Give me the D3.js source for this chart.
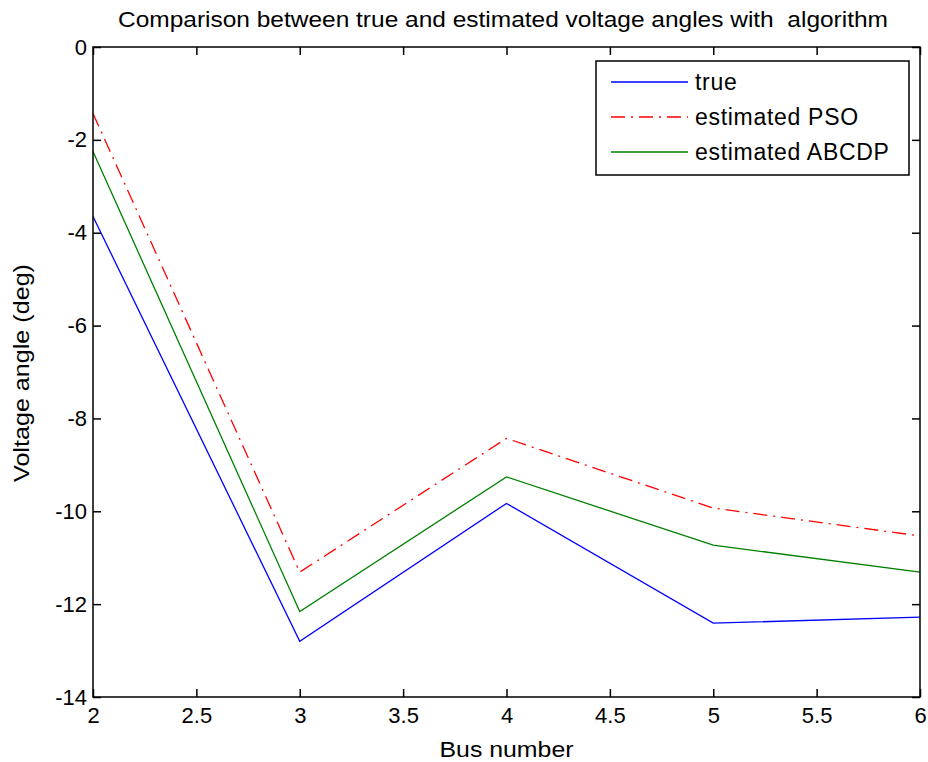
<!DOCTYPE html>
<html><head><meta charset="utf-8">
<script src="https://cdn.jsdelivr.net/npm/d3@7"></script>
<style>body{margin:0;background:#fff}svg{display:block}text{white-space:pre}</style>
</head><body>
<svg id="c" width="928" height="762"></svg>
<script>
const busNumbers = [2, 3, 4, 5, 6];
const trueAngles = [-3.65, -12.80, -9.83, -12.41, -12.28];
const psoAngles = [-1.43, -11.31, -8.43, -9.93, -10.53];
const abcdpAngles = [-2.25, -12.16, -9.26, -10.73, -11.31];
const seriesNames = ["true", "estimated PSO", "estimated ABCDP"];
const xTicks = [2, 2.5, 3, 3.5, 4, 4.5, 5, 5.5, 6];
const yTicks = [0, -2, -4, -6, -8, -10, -12, -14];
const titleText = "Comparison between true and estimated voltage angles with  algorithm";
const xLabel = "Bus number";
const yLabel = "Voltage angle (deg)";

const L = 93, R = 920, T = 47, B = 697;
const svg = d3.select("#c");
const x = d3.scaleLinear().domain([2, 6]).range([L, R]);
const y = d3.scaleLinear().domain([-14, 0]).range([B, T]);
const font = "'Liberation Sans',Arial,sans-serif";
const fmt = d => String(d);

const series = [
  {name: seriesNames[0], vals: trueAngles, color: "#0000ff", dash: null},
  {name: seriesNames[1], vals: psoAngles, color: "#ff0000", dash: "14,6,2,6"},
  {name: seriesNames[2], vals: abcdpAngles, color: "#008000", dash: null}
];

const line = d3.line().x((d, i) => x(busNumbers[i])).y(d => y(d));
series.forEach(s => {
  svg.append("path").attr("d", line(s.vals)).attr("fill", "none")
    .attr("stroke", s.color).attr("stroke-width", 1.3)
    .attr("stroke-dasharray", s.dash);
});

svg.append("rect").attr("x", L).attr("y", T).attr("width", R - L).attr("height", B - T)
  .attr("fill", "none").attr("stroke", "#000").attr("stroke-width", 1.5);

const tk = 8;
const styleAxis = g => {
  g.select(".domain").remove();
  g.selectAll(".tick line").attr("stroke", "#000").attr("stroke-width", 1.5);
  g.selectAll(".tick text").attr("fill", "#000").style("font-family", font).style("font-size", "22px");
};
svg.append("g").attr("transform", `translate(0,${B})`)
  .call(d3.axisBottom(x).tickValues(xTicks).tickFormat(fmt).tickSizeInner(-tk).tickPadding(10))
  .call(styleAxis);
svg.append("g").attr("transform", `translate(0,${T})`)
  .call(d3.axisTop(x).tickValues(xTicks).tickFormat("").tickSizeInner(-tk))
  .call(styleAxis);
svg.append("g").attr("transform", `translate(${L},0)`)
  .call(d3.axisLeft(y).tickValues(yTicks).tickFormat(fmt).tickSizeInner(-tk).tickPadding(6))
  .call(styleAxis);
svg.append("g").attr("transform", `translate(${R},0)`)
  .call(d3.axisRight(y).tickValues(yTicks).tickFormat("").tickSizeInner(-tk))
  .call(styleAxis);

svg.append("text").attr("x", 503).attr("y", 27).attr("text-anchor", "middle")
  .style("font-family", font).style("font-size", "22px")
  .attr("textLength", 770).attr("lengthAdjust", "spacingAndGlyphs").text(titleText);
svg.append("text").attr("x", (L + R) / 2).attr("y", 757).attr("text-anchor", "middle")
  .style("font-family", font).style("font-size", "22px")
  .attr("textLength", 134).attr("lengthAdjust", "spacingAndGlyphs").text(xLabel);
svg.append("text").attr("transform", `translate(29,${(T + B) / 2 + 1}) rotate(-90)`).attr("text-anchor", "middle")
  .style("font-family", font).style("font-size", "22px")
  .attr("textLength", 218).attr("lengthAdjust", "spacingAndGlyphs").text(yLabel);

const lg = svg.append("g");
lg.append("rect").attr("x", 596).attr("y", 61).attr("width", 313).attr("height", 114)
  .attr("fill", "#fff").attr("stroke", "#000").attr("stroke-width", 1.5);
series.forEach((s, i) => {
  const yy = 82 + i * 35;
  lg.append("line").attr("x1", 611).attr("x2", 688).attr("y1", yy).attr("y2", yy)
    .attr("stroke", s.color).attr("stroke-width", 1.3).attr("stroke-dasharray", s.dash);
  lg.append("text").attr("x", 695).attr("y", yy + 8)
    .style("font-family", font).style("font-size", "23px").style("letter-spacing", "0.7px").text(s.name);
});
</script>
</body></html>
